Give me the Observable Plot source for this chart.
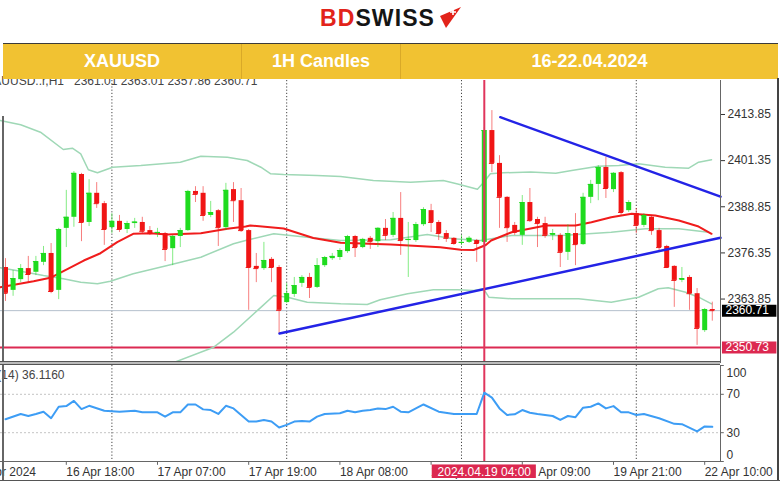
<!DOCTYPE html>
<html><head><meta charset="utf-8">
<script src="https://cdn.jsdelivr.net/npm/d3@7"></script>
<script src="https://cdn.jsdelivr.net/npm/@observablehq/plot@0.6"></script>
<style>
html,body{margin:0;padding:0;}
body{width:780px;height:483px;position:relative;overflow:hidden;background:#fff;font-family:"Liberation Sans",Arial,sans-serif;}
#logo{position:absolute;left:320px;top:4px;height:28px;font:bold 23px "Liberation Sans",Arial,sans-serif;letter-spacing:1.1px;line-height:28px;white-space:nowrap;}
#logo .bd{color:#e2231a;} #logo .sw{color:#151515;}
#logoicon{position:absolute;left:437px;top:4px;}
#bar{position:absolute;left:3px;top:43px;width:775px;height:35px;background:#f1c232;border-top:1px solid #3a3a3a;z-index:5;display:flex;}
.cell{color:#fff;font:bold 18px "Liberation Sans",Arial,sans-serif;display:flex;align-items:center;justify-content:center;border-right:1px solid #d9a928;box-sizing:border-box;height:35px;}
#price{position:absolute;left:0;top:78px;}
#rsi{position:absolute;left:0;top:363px;}
.ln{position:absolute;z-index:6;}
</style></head>
<body>
<div id="logo"><span class="bd">BD</span><span class="sw">SWISS</span></div>
<svg id="logoicon" width="28" height="26"><polygon points="3,12 24,3 9,24" fill="#e2231a"/><path d="M16 5v6M13 8h6" stroke="#fff" stroke-width="1.6"/></svg>
<div id="bar">
  <div class="cell" style="width:239px">XAUUSD</div>
  <div class="cell" style="width:159px">1H Candles</div>
  <div class="cell" style="width:377px;border-right:none">16-22.04.2024</div>
</div>
<div id="price"></div>
<div id="rsi"></div>
<div class="ln" style="left:2px;top:116px;width:2px;height:364px;background:#666"></div>
<div class="ln" style="left:777px;top:78px;width:2px;height:403px;background:#444"></div>
<div class="ln" style="left:0;top:480px;width:780px;height:1px;background:#555"></div>
<div class="ln" style="left:0;top:361px;width:720px;height:2px;border-top:1px solid #555;border-bottom:1px solid #555;background:#bbb"></div>
<script>
// ---- candles: index 0 = 16 Apr 10:00, hourly bars (index 93 = 22 Apr 11:00)
const open  = [2372.4,2366.2,2369.1,2372.1,2371.1,2373.8,2376.2,2366.2,2383.0,2386.0,2397.6,2384.6,2392.5,2389.7,2383.2,2384.9,2382.7,2384.3,2384.6,2382.4,2381.6,2381.6,2377.5,2380.8,2382.4,2393.0,2392.5,2386.5,2387.8,2383.2,2393.5,2390.5,2382.4,2372.7,2372.1,2374.6,2372.4,2362.9,2365.1,2368.1,2369.7,2367.0,2372.9,2374.8,2375.1,2376.7,2380.8,2377.8,2380.3,2379.4,2383.0,2381.1,2385.7,2379.7,2379.7,2384.0,2387.8,2384.6,2381.6,2380.3,2378.9,2379.2,2379.7,2379.2,2409.5,2400.6,2391.4,2383.8,2381.1,2390.0,2385.4,2384.3,2381.1,2381.1,2376.5,2381.6,2378.6,2391.4,2394.9,2399.5,2393.5,2398.1,2387.8,2387.0,2383.8,2386.0,2382.4,2378.1,2372.7,2368.9,2369.7,2365.3,2355.3,2361.01];
const high  = [2374.8,2371.6,2373.2,2375.4,2375.4,2378.1,2378.9,2383.0,2393.3,2398.4,2397.9,2396.2,2395.4,2390.3,2387.0,2386.5,2384.9,2385.7,2386.0,2383.5,2383.0,2381.9,2381.1,2383.0,2393.3,2394.3,2394.3,2390.3,2388.1,2395.2,2395.4,2393.8,2382.7,2376.2,2379.2,2375.1,2372.9,2368.1,2369.7,2370.2,2370.8,2374.8,2375.4,2376.2,2377.5,2381.1,2381.1,2380.3,2380.8,2383.2,2385.4,2387.3,2392.7,2384.6,2384.6,2388.6,2389.5,2385.1,2382.4,2380.5,2381.1,2380.8,2380.0,2410.3,2414.9,2402.7,2391.6,2384.6,2391.9,2393.8,2386.0,2386.0,2382.7,2381.6,2384.0,2387.0,2392.5,2396.0,2400.0,2402.2,2398.1,2398.4,2390.5,2388.4,2387.0,2386.5,2383.0,2378.4,2372.9,2372.4,2370.2,2366.7,2361.3,2363.01];
const low   = [2363.2,2364.6,2368.3,2368.3,2370.2,2372.9,2365.3,2363.7,2377.8,2383.3,2379.4,2383.5,2388.4,2378.4,2381.6,2381.9,2381.6,2383.0,2381.6,2381.1,2380.5,2374.0,2372.9,2377.8,2382.2,2390.0,2384.9,2385.9,2378.1,2382.4,2384.6,2381.9,2360.8,2368.3,2371.6,2368.3,2354.5,2362.6,2364.3,2367.0,2364.0,2366.7,2372.4,2374.3,2374.3,2376.2,2375.1,2377.5,2377.3,2377.8,2379.7,2380.5,2375.7,2369.7,2379.2,2383.5,2381.9,2379.7,2379.2,2378.4,2378.4,2378.9,2373.8,2378.6,2398.1,2383.0,2379.2,2381.1,2378.4,2384.6,2377.8,2380.3,2379.7,2372.4,2374.3,2372.9,2378.4,2389.7,2390.5,2391.1,2392.7,2386.5,2387.3,2381.6,2383.2,2381.1,2377.0,2372.1,2361.6,2368.3,2360.8,2351.3,2354.8,2357.86];
const close = [2365.4,2369.4,2372.1,2370.5,2374.0,2376.2,2365.9,2382.7,2386.0,2397.9,2384.6,2392.5,2389.7,2382.7,2384.9,2382.7,2384.3,2384.7,2382.2,2381.6,2381.9,2377.3,2380.8,2382.4,2393.0,2392.2,2386.5,2387.3,2383.2,2393.3,2390.5,2382.4,2372.4,2372.1,2374.3,2372.4,2360.8,2365.3,2367.5,2369.7,2367.0,2372.9,2375.1,2375.4,2377.0,2380.8,2377.8,2380.0,2379.4,2383.0,2381.1,2385.7,2379.7,2380.0,2384.0,2388.1,2384.6,2381.6,2380.3,2378.9,2379.2,2380.3,2378.9,2409.5,2400.6,2391.4,2383.2,2381.9,2390.0,2385.1,2384.3,2381.1,2381.6,2376.5,2381.6,2378.6,2391.4,2394.9,2399.5,2393.8,2397.9,2387.3,2390.0,2383.8,2386.5,2382.4,2377.8,2372.4,2368.9,2369.4,2365.3,2355.9,2361.0,2360.71];

// ---- Bollinger bands (upper / middle MA / lower) and slow MA, read at bar positions
const upperIdx = [-0.7,2.0,4.6,7.6,8.8,9.9,10.9,12.1,14.1,17.8,23.0,25.7,29.2,31.8,33.6,34.9,36.6,41.0,44.1,48.4,53.3,57.6,59.5,62.1,62.9,63.8,65.5,69.1,72.4,74.5,78.0,80.7,83.3,86.8,89.9,91.2,92.9];
const upperVal = [2412.2,2411.06,2409.05,2404.37,2404.72,2403.2,2398.87,2398.06,2399.57,2400.03,2400.93,2402.55,2402.28,2401.39,2399.57,2397.78,2397.59,2397.32,2397.05,2395.97,2395.51,2395.97,2395.02,2393.61,2395.43,2397.78,2398.06,2398.27,2397.95,2398.68,2399.84,2400.03,2400.49,2399.57,2399.3,2400.93,2401.58];
const maIdx = [-0.7,3.7,5.9,8.2,10.3,12.5,14.7,16.8,19.1,21.3,25.7,29.2,31.6,32.2,36.6,40.5,44.1,50.7,57.2,59.9,61.6,63.2,63.9,66.6,71.1,75.0,77.1,79.7,82.4,85.5,88.6,91.2,92.9];
const maVal = [2367.06,2368.69,2369.61,2372.05,2374.29,2376.27,2379.25,2381.53,2381.69,2381.34,2381.69,2382.88,2383.5,2383.77,2382.96,2380.39,2379.09,2378.63,2377.9,2377.19,2377.14,2378.5,2379.72,2381.96,2383.77,2383.77,2384.67,2386.02,2386.95,2386.49,2385.13,2383.5,2381.53];
const lowerIdx = [19.1,21.7,27.4,30.0,33.6,35.3,37.1,39.7,44.1,47.6,49.3,52.9,56.3,59.5,61.6,62.9,63.6,66.6,75.4,79.7,83.3,85.9,87.2,89.5,91.2,92.9];
const lowerVal = [2343.9,2346.3,2350.8,2354.87,2361.6,2364.81,2364.35,2363.0,2362.56,2362.37,2363.65,2365.27,2366.35,2366.35,2366.17,2366.63,2364.35,2363.92,2363.92,2363.0,2364.35,2366.63,2366.9,2365.71,2364.35,2362.56];
const slowIdx = [-0.7,2.0,5.0,7.6,9.9,12.1,13.8,16.8,21.3,25.7,30.0,31.6,35.3,39.7,44.1,50.7,55.5,58.9,62.5,66.6,73.2,76.7,79.7,84.2,88.6,92.5];
const slowVal = [2372.32,2371.4,2370.23,2369.34,2368.42,2367.98,2368.69,2370.69,2372.94,2375.19,2378.82,2379.72,2381.53,2380.61,2379.72,2379.9,2381.34,2380.17,2379.72,2381.07,2381.07,2381.53,2381.96,2382.88,2382.88,2381.96];

// ---- drawn trend lines (bar index, price)
const trendLowIdx = [36.05,94.08];
const trendLowVal = [2354.5,2380.45];
const trendHighIdx = [65.1,94.08];
const trendHighVal = [2413.12,2391.58];

// ---- RSI(14)
const rsiIdx = [0,2,3,4,5,6,7,8,9,10,11,13,15,17,18,20,21,22,23,24,25,26,27,28,29,30,31,32,33,34,35,36,37,38,39,40,41,42,44,45,46,47,48,49,50,51,52,53,55,57,59,62,63,64,65,66,67,68,69,70,72,73,74,75,76,77,78,79,80,81,82,83,84,86,88,89,91,92,93];
const rsiVal = [44.0,49.5,47.4,49.5,51.9,45.1,57.0,57.7,63.1,54.6,58.0,52.9,51.9,52.9,51.2,51.2,46.7,51.2,51.2,59.4,59.4,54.3,53.6,49.5,58.0,55.3,48.5,41.6,41.6,43.3,41.6,35.4,38.2,41.6,42.3,41.6,46.7,49.5,50.2,52.9,51.2,52.9,53.6,55.3,54.6,57.0,51.9,51.2,59.4,51.9,49.5,49.5,71.7,66.6,55.3,48.5,49.2,53.6,50.8,49.5,47.4,43.3,47.4,46.1,56.0,57.0,60.5,55.3,57.7,51.2,51.2,48.5,49.5,45.1,39.2,38.9,31.3,36.5,36.116];

// ---- labels / levels
const priceTicks = [2413.85,2401.35,2388.85,2376.35,2363.85];
const lastPrice = [2360.71];
const supportPrice = [2350.73];
const daySepIdx = [14,37,60,83];
const markerIdx = [63];
const markerLabel = ["2024.04.19 04:00"];
const timeTickIdx = [-4.5,8,20,32,44,56,68,80,92];
const timeTickLab = ["16 Apr 2024","16 Apr 18:00","17 Apr 07:00","17 Apr 19:00","18 Apr 08:00","18 Apr 20:00","19 Apr 09:00","19 Apr 21:00","22 Apr 10:00"];
const rsiTicks = [100,70,30,0];
const rsiLevels = [70,30];
const chartHeader = "XAUUSD..r,H1\u00a0\u00a0\u00a02361.01 2363.01 2357.86 2360.71";
const rsiHeader = "RSI(14) 36.1160";

const GREEN = "#1fdb1f", RED = "#f01515";
const FONT = "'Liberation Sans', Arial, sans-serif";
const X_DOMAIN = [-0.658, 94.08];
const pairs = (a, b) => a.map((i, k) => ({i, v: b[k]}));

const candles = open.map((o, i) => ({i, o, h: high[i], l: low[i], c: close[i], col: close[i] >= o ? GREEN : RED}));

const style = {fontFamily: FONT, fontSize: "12px", color: "#333", background: "transparent", overflow: "visible"};

const price = Plot.plot({
  width: 780, height: 285, marginLeft: 0, marginRight: 60, marginTop: 2, marginBottom: 0,
  style,
  x: {domain: X_DOMAIN, axis: null},
  y: {domain: [2346.39, 2423.06], axis: "right", ticks: priceTicks, tickFormat: d => d.toFixed(2), tickSize: 4, tickPadding: 3, label: null},
  color: {type: "identity"},
  marks: [
    Plot.ruleX(daySepIdx, {stroke: "#444", strokeDasharray: "1.2,2"}),
    Plot.ruleY(lastPrice, {stroke: "#b4bfcc"}),
    Plot.ruleY(supportPrice, {stroke: "#dc2a52", strokeWidth: 2}),
    Plot.line(pairs(lowerIdx, lowerVal), {x: "i", y: "v", stroke: "#9fd8b6", strokeWidth: 1.5, clip: true}),
    Plot.line(pairs(upperIdx, upperVal), {x: "i", y: "v", stroke: "#9fd8b6", strokeWidth: 1.5}),
    Plot.line(pairs(slowIdx, slowVal), {x: "i", y: "v", stroke: "#9fd8b6", strokeWidth: 1.5}),
    Plot.line(pairs(maIdx, maVal), {x: "i", y: "v", stroke: "#f01c1c", strokeWidth: 2}),
    Plot.ruleX(candles, {x: "i", y1: "l", y2: "h", stroke: "col", strokeOpacity: 0.55}),
    Plot.ruleX(candles, {x: "i", y1: "o", y2: "c", stroke: "col", strokeWidth: 5}),
    Plot.ruleY(candles, {y: "c", x1: d => d.i - 0.33, x2: d => d.i + 0.33, stroke: "col"}),
    Plot.line(pairs(trendLowIdx, trendLowVal), {x: "i", y: "v", stroke: "#2323e6", strokeWidth: 2.5}),
    Plot.line(pairs(trendHighIdx, trendHighVal), {x: "i", y: "v", stroke: "#2323e6", strokeWidth: 2.5}),
    Plot.ruleX(markerIdx, {stroke: "#e0355c", strokeWidth: 2}),
    Plot.ruleX([X_DOMAIN[1]], {stroke: "#666"}),
    Plot.ruleY(lastPrice, {x1: () => 94.34, x2: () => 101.5, stroke: "#000", strokeWidth: 12}),
    Plot.text(lastPrice, {y: d => d, text: d => d.toFixed(2), frameAnchor: "right", textAnchor: "start", dx: 5, fill: "#fff"}),
    Plot.ruleY(supportPrice, {x1: () => 94.34, x2: () => 101.5, stroke: "#dc2850", strokeWidth: 12}),
    Plot.text(supportPrice, {y: d => d, text: d => d.toFixed(2), frameAnchor: "right", textAnchor: "start", dx: 5, fill: "#fff"}),
    Plot.text([chartHeader], {frameAnchor: "top-left", dx: 257, dy: 0.5, textAnchor: "end", lineAnchor: "middle", fill: "#444"})
  ]
});
document.getElementById("price").append(price);

const rsi = Plot.plot({
  width: 780, height: 120, marginLeft: 0, marginRight: 60, marginTop: 2, marginBottom: 22,
  style,
  x: {domain: X_DOMAIN, axis: null},
  y: {domain: [0, 100], axis: null},
  marks: [
    Plot.ruleY(rsiLevels, {stroke: "#c4c4c4", strokeDasharray: "2,2"}),
    Plot.ruleX(daySepIdx, {stroke: "#444", strokeDasharray: "1.2,2"}),
    Plot.ruleX(markerIdx, {stroke: "#e0355c", strokeWidth: 2}),
    Plot.line(pairs(rsiIdx, rsiVal), {x: "i", y: "v", stroke: "#3d9df5", strokeWidth: 2}),
    Plot.ruleX([X_DOMAIN[1]], {stroke: "#666"}),
    Plot.ruleY([0], {stroke: "#666"}),
    Plot.ruleY(rsiTicks, {x1: () => X_DOMAIN[1], x2: () => X_DOMAIN[1] + 0.5, stroke: "#666"}),
    Plot.text(rsiTicks.filter(v => v > 0 && v < 100), {y: d => d, text: d => String(d), frameAnchor: "right", textAnchor: "start", dx: 6, fill: "#333"}),
    Plot.text(rsiTicks.filter(v => v === 100), {y: d => d, text: d => String(d), frameAnchor: "right", textAnchor: "start", dx: 6, dy: 8, fill: "#333"}),
    Plot.text(rsiTicks.filter(v => v === 0), {y: d => d, text: d => String(d), frameAnchor: "right", textAnchor: "start", dx: 6, dy: -6, fill: "#333"}),
    Plot.text([rsiHeader], {frameAnchor: "top-left", dx: 64, dy: 10, textAnchor: "end", lineAnchor: "middle", fill: "#444"}),
    Plot.ruleX(timeTickIdx, {x: d => d, y1: () => 0, y2: () => -4, stroke: "#666"}),
    Plot.text(timeTickIdx, {x: d => d, text: (d, i) => timeTickLab[i], frameAnchor: "bottom", textAnchor: "start", dy: 11, lineAnchor: "middle", fill: "#333"}),
    Plot.rect(markerIdx, {x1: d => d - 6.85, x2: d => d + 6.85, y1: () => -3.6, y2: () => -17.7, fill: "#dc2850"}),
    Plot.text(markerIdx, {x: d => d, y: () => -10.6, text: (d, i) => markerLabel[i], fill: "#fff"})
  ]
});
document.getElementById("rsi").append(rsi);
</script>
</body></html>
